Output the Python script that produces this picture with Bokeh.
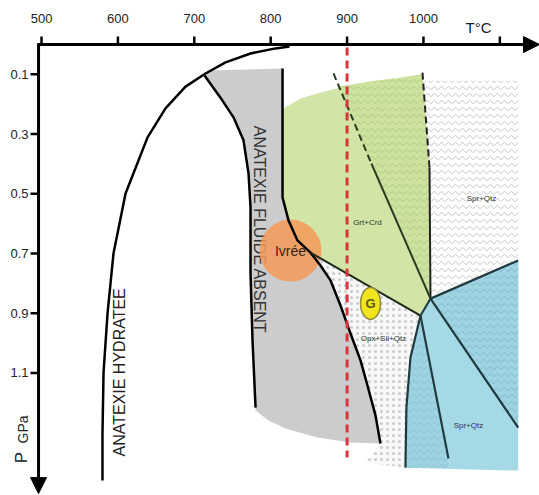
import math
from bokeh.plotting import figure
from bokeh.models import Range1d, Arrow, NormalHead
from bokeh.embed import file_html
from bokeh.resources import INLINE
from bokeh.core.properties import value

# ---------------- data (T in °C, P in GPa) ----------------
T_ticks = [500, 600, 700, 800, 900, 1000, 1100]
T_tick_labels = ["500", "600", "700", "800", "900", "1000", ""]
P_ticks = [0.1, 0.3, 0.5, 0.7, 0.9, 1.1]
P_tick_labels = ["0.1", "0.3", "0.5", "0.7", "0.9", "1.1"]

hydrate_T = [579.8, 579.8, 581.2, 586.4, 594.2, 610.0, 638.8, 662.3, 688.5, 714.7, 740.9, 773.6, 806.3, 824.6]
hydrate_P = [1.460, 1.303, 1.098, 0.901, 0.700, 0.499, 0.311, 0.214, 0.141, 0.097, 0.060, 0.030, 0.013, 0.007]

gray_left_T = [713.4, 734.3, 751.3, 764.4, 771.0, 773.6, 773.6, 776.2, 780.2]
gray_left_P = [0.104, 0.178, 0.244, 0.321, 0.432, 0.546, 0.767, 0.991, 1.216]

fluid_T = [815.5, 815.5, 815.5, 823.3, 835.1, 852.1, 865.2, 878.3, 891.4, 904.5, 917.6, 926.7, 937.2, 943.7]
fluid_P = [0.080, 0.288, 0.512, 0.589, 0.656, 0.697, 0.740, 0.790, 0.874, 0.968, 1.058, 1.142, 1.242, 1.336]

gray_bottom_T = [780.2, 797.1, 819.4, 861.3, 904.5, 943.7]
gray_bottom_P = [1.226, 1.259, 1.286, 1.316, 1.333, 1.336]
gray_top_T = [815.5, 721.2]
gray_top_P = [0.080, 0.087]

green_top_T = [816.8, 839.0, 865.2, 891.4, 930.7, 970.0, 998.7]
green_top_P = [0.214, 0.181, 0.161, 0.144, 0.124, 0.111, 0.100]

crd_T = [998.7, 1007.9, 1009.2]          # dashed then solid boundary
crd_P = [0.094, 0.412, 0.851]
diag_T = [882.2, 931.9, 1009.2]          # dashed then solid boundary
diag_P = [0.097, 0.399, 0.851]

Ja = (1009.2, 0.851)
Jg = (996.1, 0.908)
ivree_node = (852.1, 0.697)

blue_left_T = [996.1, 983.0, 977.7, 976.4]
blue_left_P = [0.908, 1.048, 1.216, 1.417]
spr_right_T = 1124.0
spr_top_P = 0.121
spr_blue_P = 0.723
blue_bottom_P = 1.427
blue_ray1 = (1032.7, 1.386)
blue_ray2 = (1124.0, 1.283)

opx_bottom = (924.1, 1.400)

red_T = 900
red_P = [0.01, 1.383]

ivree = (825.9, 0.690)
g_pt = (930.7, 0.867)

labels_T = [926.7, 1075.9, 1058.9, 947.6]
labels_P = [0.596, 0.516, 1.276, 0.985]
labels_txt = ["Grt+Crd", "Spr+Qtz", "Spr+Qtz", "Opx+Sil+Qtz"]

# ---------------- figure (frame = whole canvas, axes drawn in data space) ----------------
x0, x1 = 446.3, 1151.9
y_top, y_bot = -0.1474, 1.507
T_axis = 496.1          # position of the pressure axis
P_axis = 0.0            # position of the temperature axis
px_T = 1.309            # °C per pixel
px_P = 1 / 298.6        # GPa per pixel

p = figure(width=539, height=494, output_backend="svg", toolbar_location=None,
           x_axis_location=None, y_axis_location=None,
           x_range=Range1d(x0, x1), y_range=Range1d(y_bot, y_top),
           min_border=0)
p.grid.visible = False
p.outline_line_color = None
p.background_fill_color = "white"
p.border_fill_color = "white"

# upper-right stippled field
spr_xs = [crd_T[0], spr_right_T, spr_right_T, Ja[0], crd_T[1]]
spr_ys = [spr_top_P, spr_top_P, spr_blue_P, Ja[1], crd_P[1]]
p.patch(spr_xs, spr_ys, fill_color="white", line_color=None,
        hatch_pattern="v", hatch_color="#c4c4c4", hatch_scale=7, hatch_weight=1)

# green field
gx = green_top_T + [crd_T[1], Ja[0], Jg[0], ivree_node[0]] + fluid_T[4::-1][:4] + [fluid_T[1]]
gy = green_top_P + [crd_P[1], Ja[1], Jg[1], ivree_node[1]] + fluid_P[4::-1][:4] + [fluid_P[1]]
p.patch(gx, gy, fill_color="#d3e5a6", line_color=None)
ghx = [888.8] + green_top_T[4:] + [crd_T[1], Ja[0], diag_T[1]]
ghy = [0.141] + green_top_P[4:] + [crd_P[1], Ja[1], diag_P[1]]
p.patch(ghx, ghy, fill_color="#cde29f", line_color=None,
        hatch_pattern="v", hatch_color="#a6c479", hatch_scale=7, hatch_weight=1, hatch_alpha=0.8)

# gray field (fluid absent)
grx = gray_top_T[1:] + gray_left_T + gray_bottom_T + fluid_T[::-1]
gry = gray_top_P[1:] + gray_left_P + gray_bottom_P + fluid_P[::-1]
p.patch(grx, gry, fill_color="#cccccc", line_color=None)

# Opx+Sil+Qtz field
ox = [ivree_node[0]] + blue_left_T + [opx_bottom[0]] + fluid_T[:5:-1]
oy = [ivree_node[1]] + blue_left_P + [opx_bottom[1]] + fluid_P[:5:-1]
p.patch(ox, oy, fill_color="#f8f8f8", line_color=None,
        hatch_pattern=".", hatch_color="#cccccc", hatch_scale=6, hatch_weight=1)

# blue field
bx = [Ja[0], spr_right_T, spr_right_T, blue_left_T[3], blue_left_T[2], blue_left_T[1], blue_left_T[0]]
by = [Ja[1], spr_blue_P, blue_bottom_P, blue_left_P[3], blue_left_P[2], blue_left_P[1], blue_left_P[0]]
p.patch(bx, by, fill_color="#a6d9e6", line_color=None)
p.patch([Ja[0], spr_right_T, spr_right_T], [Ja[1], spr_blue_P, blue_ray2[1]],
        fill_color="#9fd3e1", line_color=None,
        hatch_pattern="v", hatch_color="#74b6c8", hatch_scale=7, hatch_weight=1, hatch_alpha=0.8)
p.patch(blue_left_T + [blue_ray1[0], blue_ray1[0]],
        blue_left_P + [blue_left_P[3], blue_ray1[1]],
        fill_color="#9fd3e1", line_color=None,
        hatch_pattern="v", hatch_color="#74b6c8", hatch_scale=7, hatch_weight=1, hatch_alpha=0.6)

# rotated field names
p.text(x=[786.0], y=[0.620], text=["ANATEXIE FLUIDE ABSENT"], angle=-math.pi / 2,
       text_font=value("Liberation Sans"), text_font_size="16px", text_color="#333333",
       text_align="center", text_baseline="middle")
p.text(x=[601.5], y=[1.098], text=["ANATEXIE HYDRATEE"], angle=math.pi / 2,
       text_font=value("Liberation Sans"), text_font_size="16px", text_color="#222222",
       text_align="center", text_baseline="middle")

# Ivrée circle
p.scatter(x=[ivree[0]], y=[ivree[1]], marker="circle", size=62,
          fill_color="#f39a58", fill_alpha=0.85, line_color=None)

# boundary lines
p.line(hydrate_T, hydrate_P, line_color="black", line_width=2.5)
p.line(gray_left_T, gray_left_P, line_color="black", line_width=2.5)
p.line(fluid_T, fluid_P, line_color="black", line_width=2.5)
p.line(crd_T[:2], crd_P[:2], line_color="#222222", line_width=2, line_dash="7 4")
p.line(crd_T[1:], crd_P[1:], line_color="#222222", line_width=2)
p.line(diag_T[:2], diag_P[:2], line_color="#2a3a20", line_width=2, line_dash="7 4")
p.line(diag_T[1:], diag_P[1:], line_color="#2a3a20", line_width=2)
p.line([ivree_node[0], Jg[0]], [ivree_node[1], Jg[1]], line_color="#1f2a1a", line_width=2)
p.line([Ja[0], Jg[0]], [Ja[1], Jg[1]], line_color="#1f3a40", line_width=2)
p.line([Ja[0], spr_right_T], [Ja[1], spr_blue_P], line_color="#1f3a40", line_width=2.2)
p.line(blue_left_T, blue_left_P, line_color="#1f3a40", line_width=2.2)
p.line([Jg[0], blue_ray1[0]], [Jg[1], blue_ray1[1]], line_color="#1f3a40", line_width=2.2)
p.line([Ja[0], blue_ray2[0]], [Ja[1], blue_ray2[1]], line_color="#1f3a40", line_width=2.2)

# red dashed isotherm
p.line([red_T, red_T], red_P, line_color="#d9333c", line_width=3, line_dash="8 5")

# Ivrée label
p.text(x=[ivree[0]], y=[ivree[1]], text=["Ivrée"], text_font=value("Liberation Sans"),
       text_font_size="14px", text_color="#3a2416", text_align="center", text_baseline="middle")

# G marker
p.ellipse(x=[g_pt[0]], y=[g_pt[1]], width=20, height=32, width_units="screen", height_units="screen",
          fill_color="#f2e41c", line_color="#8c8a3c", line_width=1.5)
p.text(x=[g_pt[0]], y=[g_pt[1]], text=["G"], text_font=value("Liberation Sans"),
       text_font_size="13px", text_font_style="bold", text_color="#5c5a1c",
       text_align="center", text_baseline="middle")

# small field labels
p.text(x=labels_T, y=labels_P, text=labels_txt, text_font=value("Liberation Sans"),
       text_font_size="8px", text_color="#2c3a30", text_align="center", text_baseline="middle")

# ---------------- axes ----------------
# temperature axis (top) with arrow
p.add_layout(Arrow(end=NormalHead(size=16, fill_color="black", line_color="black"),
                   x_start=T_axis - 1, y_start=P_axis, x_end=x1, y_end=P_axis,
                   line_width=3, line_color="black"))
p.segment(x0=T_ticks, y0=[P_axis] * len(T_ticks), x1=T_ticks, y1=[P_axis - 8 * px_P] * len(T_ticks),
          line_color="black", line_width=2.5)
p.text(x=T_ticks, y=[P_axis - 26 * px_P] * len(T_ticks), text=T_tick_labels,
       text_font=value("Liberation Sans"), text_font_size="13px", text_color="#222222",
       text_align="center", text_baseline="middle")
p.text(x=[1072], y=[P_axis - 17 * px_P], text=["T°C"], text_font=value("Liberation Sans"),
       text_font_size="15px", text_color="#222222", text_align="center", text_baseline="middle")

# pressure axis (left, pointing down) with arrow
p.add_layout(Arrow(end=NormalHead(size=16, fill_color="black", line_color="black"),
                   x_start=T_axis, y_start=P_axis - 1 * px_P, x_end=T_axis, y_end=1.504,
                   line_width=3, line_color="black"))
p.segment(x0=[T_axis] * len(P_ticks), y0=P_ticks, x1=[T_axis - 8 * px_T] * len(P_ticks), y1=P_ticks,
          line_color="black", line_width=2.5)
p.text(x=[T_axis - 10 * px_T] * len(P_ticks), y=P_ticks, text=P_tick_labels,
       text_font=value("Liberation Sans"), text_font_size="13px", text_color="#222222",
       text_align="right", text_baseline="middle")
p.text(x=[T_axis - 17 * px_T], y=[1.383], text=["P"], angle=math.pi / 2,
       text_font=value("Liberation Sans"), text_font_size="17px", text_color="#222222",
       text_align="center", text_baseline="middle")
p.text(x=[T_axis - 16 * px_T], y=[1.289], text=["GPa"], angle=math.pi / 2,
       text_font=value("Liberation Sans"), text_font_size="14px", text_color="#222222",
       text_align="center", text_baseline="middle")

open("out.html", "w").write(file_html(p, INLINE))
